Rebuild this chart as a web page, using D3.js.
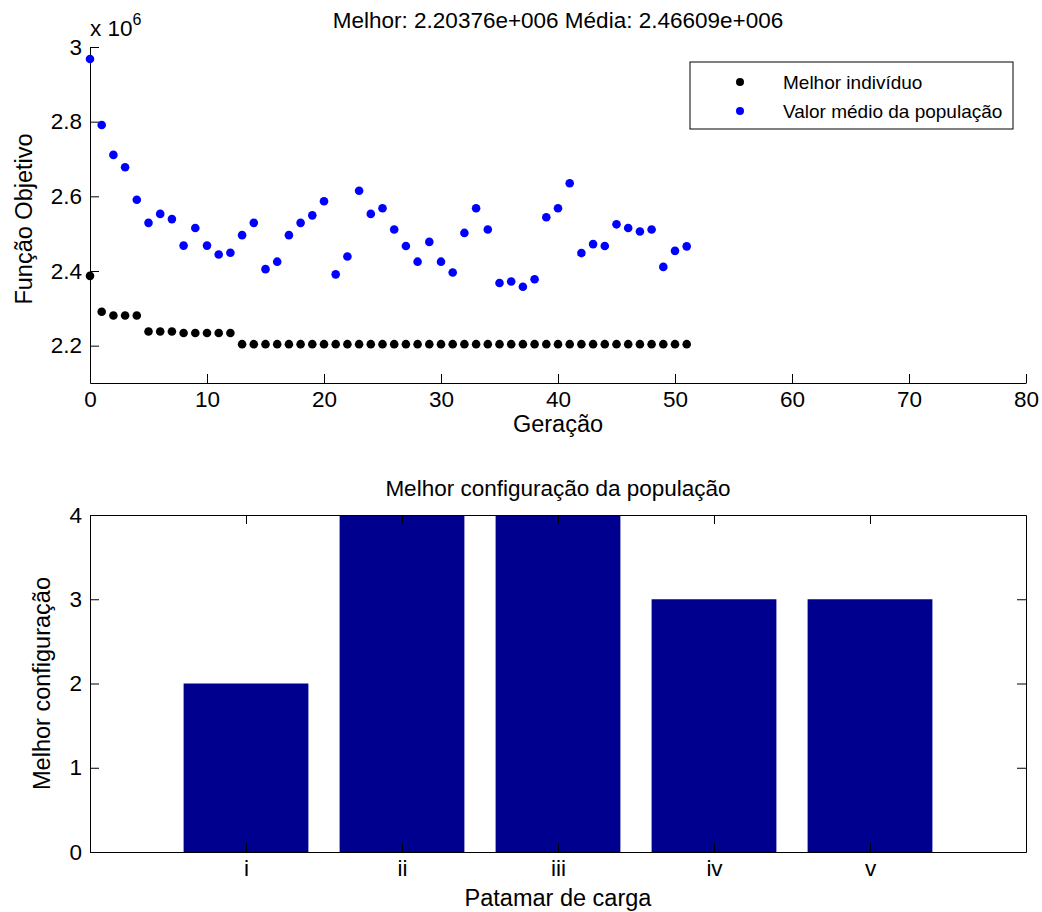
<!DOCTYPE html>
<html lang="pt">
<head>
    <meta charset="UTF-8">
    <script src="https://d3js.org/d3.v7.min.js"></script>
    <title>Algoritmo genético</title>
    <style>
        body { margin: 0; background: #fff; }
        text { font-family: "Liberation Sans", Arial, sans-serif; fill: #000; }
        .domain, .tick line { stroke: #000; }
    </style>
</head>
<body>

<script>
    // geração 0..51, valores em x 10^6
    const geracoes = d3.range(0, 52);
    const melhorIndividuo = [
        2.387, 2.291, 2.281, 2.281, 2.281, 2.238, 2.238, 2.238, 2.234, 2.234,
        2.234, 2.234, 2.234, 2.204, 2.204, 2.204, 2.204, 2.204, 2.204, 2.204,
        2.204, 2.204, 2.204, 2.204, 2.204, 2.204, 2.204, 2.204, 2.204, 2.204,
        2.204, 2.204, 2.204, 2.204, 2.204, 2.204, 2.204, 2.204, 2.204, 2.204,
        2.204, 2.204, 2.204, 2.204, 2.204, 2.204, 2.204, 2.204, 2.204, 2.204,
        2.204, 2.204
    ];
    const mediaPopulacao = [
        2.968, 2.791, 2.711, 2.678, 2.591, 2.529, 2.553, 2.539, 2.468, 2.515,
        2.468, 2.444, 2.449, 2.496, 2.529, 2.405, 2.425, 2.496, 2.529, 2.549,
        2.587, 2.391, 2.439, 2.615, 2.553, 2.568, 2.511, 2.467, 2.425, 2.478,
        2.425, 2.396, 2.502, 2.568, 2.511, 2.368, 2.372, 2.358, 2.378, 2.544,
        2.568, 2.635, 2.448, 2.472, 2.467, 2.525, 2.515, 2.506, 2.511, 2.411,
        2.454, 2.466
    ];
    const xTicksTop = [0, 10, 20, 30, 40, 50, 60, 70, 80];
    const yTicksTop = [2.2, 2.4, 2.6, 2.8, 3];

    const patamares = ["i", "ii", "iii", "iv", "v"];
    const melhorConfig = [2, 4, 4, 3, 3];
    const yTicksBottom = [0, 1, 2, 3, 4];

    const W = 1042, H = 912;
    const svg = d3.select("body").append("svg")
        .attr("width", W)
        .attr("height", H);

    const left = 90, right = 1026;
    const fs = 22.5;   // ticks, títulos
    const fl = 23.5;   // rótulos dos eixos

    // ---------- gráfico de cima ----------
    const top1 = 47, bottom1 = 383;
    const x1 = d3.scaleLinear().domain([0, 80]).range([left, right]);
    const y1 = d3.scaleLinear().domain([2.1, 3.0]).range([bottom1, top1]);

    svg.append("g")
        .attr("transform", "translate(0," + bottom1 + ")")
        .call(d3.axisBottom(x1).tickValues(xTicksTop).tickSizeInner(-9).tickSizeOuter(0).tickPadding(8))
        .call(g => g.selectAll("text").style("font-size", fs + "px"));

    svg.append("g")
        .attr("transform", "translate(" + left + ",0)")
        .call(d3.axisLeft(y1).tickValues(yTicksTop).tickFormat(d3.format("")).tickSizeInner(-9).tickSizeOuter(0).tickPadding(8))
        .call(g => g.selectAll("text").style("font-size", fs + "px"));

    // expoente
    const expo = svg.append("text")
        .attr("x", left)
        .attr("y", 36)
        .style("font-size", fs + "px");
    expo.append("tspan").text("x 10");
    expo.append("tspan").attr("dy", -11).style("font-size", "16px").text("6");

    svg.append("g").selectAll("circle")
        .data(geracoes)
        .enter().append("circle")
        .attr("cx", d => x1(d))
        .attr("cy", d => y1(melhorIndividuo[d]))
        .attr("r", 4.3)
        .attr("fill", "#000");

    svg.append("g").selectAll("circle")
        .data(geracoes)
        .enter().append("circle")
        .attr("cx", d => x1(d))
        .attr("cy", d => y1(mediaPopulacao[d]))
        .attr("r", 4.3)
        .attr("fill", "#0000ff");

    svg.append("text")
        .attr("x", (left + right) / 2)
        .attr("y", 28)
        .style("text-anchor", "middle")
        .style("font-size", fs + "px")
        .text("Melhor: 2.20376e+006 Média: 2.46609e+006");

    svg.append("text")
        .attr("x", (left + right) / 2)
        .attr("y", 432)
        .style("text-anchor", "middle")
        .style("font-size", fl + "px")
        .text("Geração");

    svg.append("text")
        .attr("transform", "translate(32," + ((top1 + bottom1) / 2 + 4) + ") rotate(-90)")
        .style("text-anchor", "middle")
        .style("font-size", fl + "px")
        .text("Função Objetivo");

    // legenda
    const leg = svg.append("g");
    leg.append("rect")
        .attr("x", 690).attr("y", 62)
        .attr("width", 323).attr("height", 67)
        .attr("fill", "#fff").attr("stroke", "#000");
    const legItems = [["Melhor indivíduo", "#000"], ["Valor médio da população", "#0000ff"]];
    legItems.forEach((it, i) => {
        leg.append("circle").attr("cx", 740).attr("cy", 82 + i * 29).attr("r", 4).attr("fill", it[1]);
        leg.append("text").attr("x", 783).attr("y", 82 + i * 29).attr("dy", "0.35em")
            .style("font-size", "19px").text(it[0]);
    });

    // ---------- gráfico de baixo ----------
    const top2 = 515, bottom2 = 852;
    const x2 = d3.scaleLinear().domain([0, 6]).range([left, right]);
    const y2 = d3.scaleLinear().domain([0, 4]).range([bottom2, top2]);
    const barW = (x2(1) - x2(0)) * 0.8;

    svg.append("g").selectAll("rect")
        .data(melhorConfig)
        .enter().append("rect")
        .attr("x", (d, i) => x2(i + 1) - barW / 2)
        .attr("y", d => y2(d))
        .attr("width", barW)
        .attr("height", d => y2(0) - y2(d))
        .attr("fill", "#00008f");

    const xAx2 = d3.axisBottom(x2).tickValues([1, 2, 3, 4, 5])
        .tickFormat(d => patamares[d - 1]).tickSizeInner(-9).tickSizeOuter(0).tickPadding(8);
    svg.append("g")
        .attr("transform", "translate(0," + bottom2 + ")")
        .call(xAx2)
        .call(g => g.selectAll("text").style("font-size", fs + "px"));
    svg.append("g")
        .attr("transform", "translate(0," + top2 + ")")
        .call(d3.axisTop(x2).tickValues([1, 2, 3, 4, 5]).tickFormat("").tickSizeInner(-9).tickSizeOuter(0));

    svg.append("g")
        .attr("transform", "translate(" + left + ",0)")
        .call(d3.axisLeft(y2).tickValues(yTicksBottom).tickFormat(d3.format("d")).tickSizeInner(-9).tickSizeOuter(0).tickPadding(8))
        .call(g => g.selectAll("text").style("font-size", fs + "px"));
    svg.append("g")
        .attr("transform", "translate(" + right + ",0)")
        .call(d3.axisRight(y2).tickValues(yTicksBottom).tickFormat("").tickSizeInner(-9).tickSizeOuter(0));

    svg.append("text")
        .attr("x", (left + right) / 2)
        .attr("y", 496)
        .style("text-anchor", "middle")
        .style("font-size", fs + "px")
        .text("Melhor configuração da população");

    svg.append("text")
        .attr("x", (left + right) / 2)
        .attr("y", 906)
        .style("text-anchor", "middle")
        .style("font-size", fl + "px")
        .text("Patamar de carga");

    svg.append("text")
        .attr("transform", "translate(50," + ((top2 + bottom2) / 2) + ") rotate(-90)")
        .style("text-anchor", "middle")
        .style("font-size", fl + "px")
        .text("Melhor configuração");
</script>

</body>
</html>
